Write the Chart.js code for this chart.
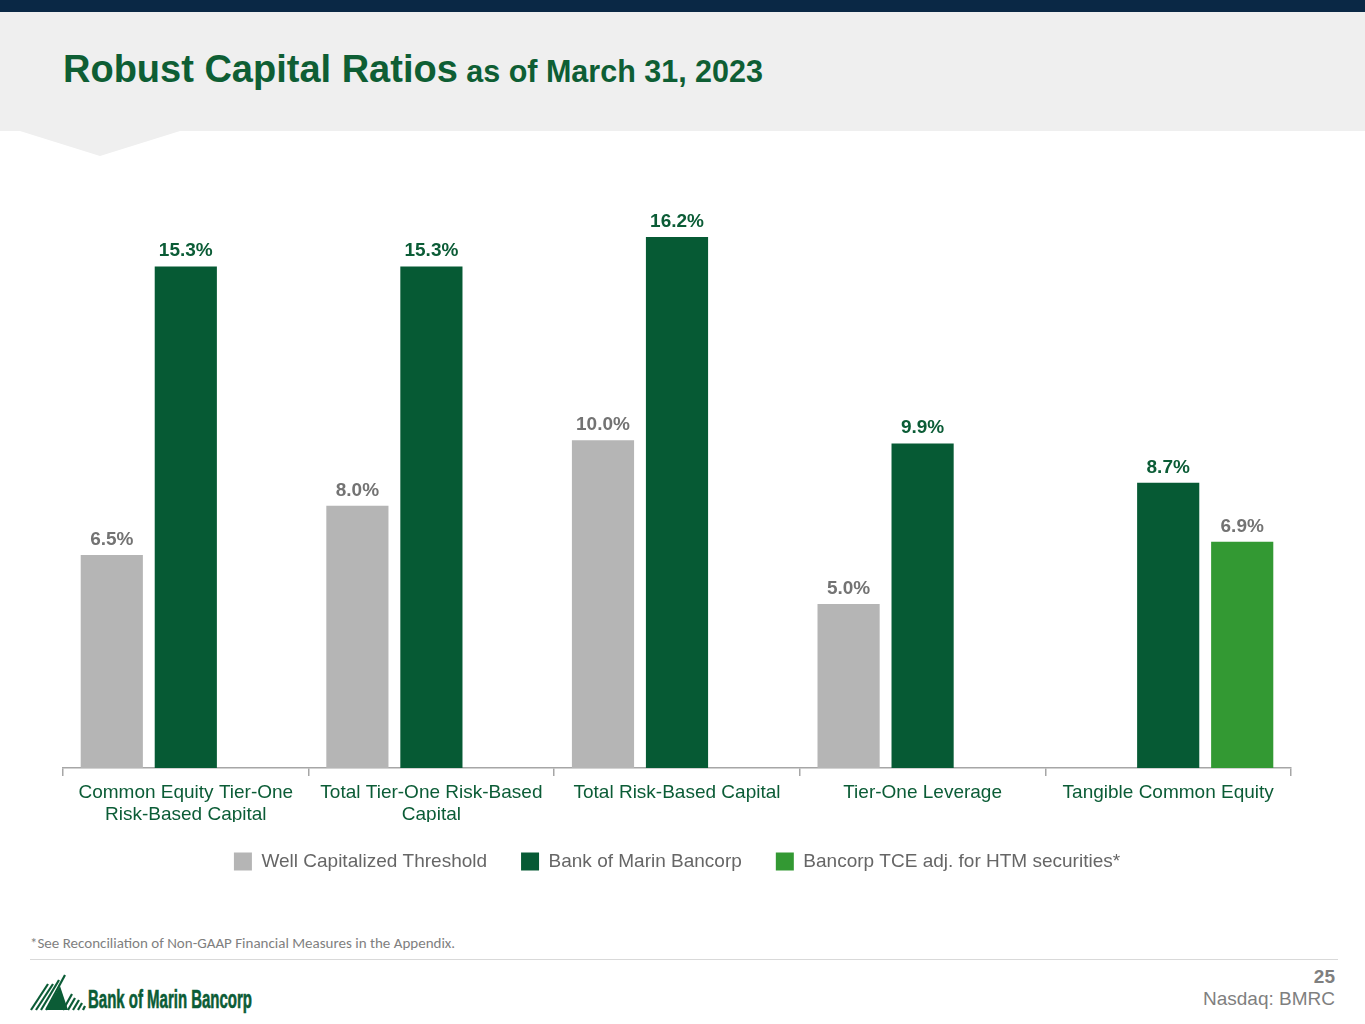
<!DOCTYPE html>
<html>
<head>
<meta charset="utf-8">
<script src="https://cdn.jsdelivr.net/npm/chart.js@4.4.1/dist/chart.umd.min.js"></script>
<style>
  html, body { margin: 0; padding: 0; background: #ffffff; }
  body { width: 1365px; height: 1024px; position: relative; overflow: hidden; font-family: "Liberation Sans", Arial, sans-serif; }
  #topbar { position: absolute; left: 0; top: 0; width: 1365px; height: 12px; background: #0a2845; }
  #band { position: absolute; left: 0; top: 12px; width: 1365px; height: 160px; }
  #title { position: absolute; left: 63px; top: 48px; color: #0e5e34; font-weight: bold; white-space: nowrap; }
  #title .big { font-size: 38px; }
  #title .small { font-size: 30.5px; margin-left: 4px; }
  #chartWrap { position: absolute; left: 0; top: 160px; width: 1365px; height: 725px; }
  #footnote { position: absolute; left: 30px; top: 934px; font-family: Carlito, "Liberation Sans", sans-serif; font-size: 15px; color: #7f7f7f; white-space: nowrap; }
  #rule { position: absolute; left: 30px; top: 959px; width: 1308px; height: 1px; background: #d9d9d9; }
  #pagenum { position: absolute; right: 30px; top: 966px; font-size: 19px; font-weight: bold; color: #7f7f7f; }
  #nasdaq { position: absolute; right: 30px; top: 988px; font-size: 19px; color: #7f7f7f; }
  #logo { position: absolute; left: 28px; top: 970px; }
</style>
</head>
<body>
<div id="topbar"></div>
<svg id="band" width="1365" height="160">
  <polygon points="0,0 1365,0 1365,119 180,119 100,144 20,119 0,119" fill="#efefef"/>
</svg>
<div id="title"><span class="big">Robust Capital Ratios</span> <span class="small">as of March 31, 2023</span></div>
<div id="chartWrap"><canvas id="chart"></canvas></div>
<div id="footnote">*See Reconciliation of Non-GAAP Financial Measures in the Appendix.</div>
<div id="rule"></div>
<div id="pagenum">25</div>
<div id="nasdaq">Nasdaq: BMRC</div>
<svg id="logo" width="240" height="45">
  <g stroke="#0b5c36" stroke-width="2.2" fill="none">
    <line x1="3" y1="40" x2="20" y2="14"/>
    <line x1="8" y1="40" x2="25" y2="14"/>
    <line x1="13" y1="40" x2="31" y2="10"/>
    <line x1="18" y1="40" x2="37" y2="5"/>
    <line x1="35" y1="40" x2="44" y2="24"/>
    <line x1="40" y1="40" x2="47" y2="28"/>
    <line x1="45" y1="40" x2="51" y2="30"/>
    <line x1="50" y1="40" x2="54" y2="33"/>
    <line x1="55" y1="40" x2="57" y2="36"/>
  </g>
  <polygon points="18,40 32,16 40,40" fill="#0b5c36"/>
  <text x="60" y="38" font-family="'Liberation Sans Narrow', 'Liberation Sans', Arial, sans-serif" font-weight="bold" font-size="25" fill="#0b5c36" stroke="#0b5c36" stroke-width="0.6" textLength="164" lengthAdjust="spacingAndGlyphs">Bank of Marin Bancorp</text>
</svg>
<script>
const categories = [
  ["Common Equity Tier-One", "Risk-Based Capital"],
  ["Total Tier-One Risk-Based", "Capital"],
  "Total Risk-Based Capital",
  "Tier-One Leverage",
  "Tangible Common Equity"
];
const seriesNames = ["Well Capitalized Threshold", "Bank of Marin Bancorp", "Bancorp TCE adj. for HTM securities*"];
const wellCapitalized = [6.5, 8.0, 10.0, 5.0, null];
const bankOfMarin = [15.3, 15.3, 16.2, 9.9, 8.7];
const tceAdjusted = [null, null, null, null, 6.9];

const FONT = "'Liberation Sans', Arial, sans-serif";
const barColors = ["#b5b5b5", "#065a34", "#339933"];
const labelColors = ["#737373", "#0b5c36", "#737373"];

const valueLabels = {
  id: "valueLabels",
  afterDatasetsDraw(chart) {
    const ctx = chart.ctx;
    ctx.save();
    ctx.font = "bold 19px " + FONT;
    ctx.textAlign = "center";
    ctx.textBaseline = "alphabetic";
    chart.data.datasets.forEach((ds, i) => {
      const meta = chart.getDatasetMeta(i);
      meta.data.forEach((el, j) => {
        const v = ds.data[j];
        if (v === null || v === undefined) return;
        ctx.fillStyle = labelColors[i];
        ctx.fillText(v.toFixed(1) + "%", el.x, el.y - 10);
      });
    });
    ctx.restore();
  }
};

const legendNudge = {
  id: "legendNudge",
  afterLayout(chart) {
    if (chart.legend) { chart.legend.top -= 4; chart.legend.bottom -= 4; }
  }
};

new Chart(document.getElementById("chart"), {
  type: "bar",
  data: {
    labels: categories,
    datasets: [
      { label: seriesNames[0], data: wellCapitalized, backgroundColor: barColors[0] },
      { label: seriesNames[1], data: bankOfMarin, backgroundColor: barColors[1] },
      { label: seriesNames[2], data: tceAdjusted, backgroundColor: barColors[2] }
    ]
  },
  options: {
    responsive: true,
    maintainAspectRatio: false,
    animation: false,
    categoryPercentage: 0.904,
    barPercentage: 0.84,
    layout: { padding: { left: 63, right: 74, top: 18, bottom: 0 } },
    scales: {
      x: {
        afterFit(scale) { scale.height -= 10; },
        grid: { display: true, drawOnChartArea: false, drawTicks: true, tickLength: 8, color: "#a6a6a6", lineWidth: 1.5, offset: true },
        border: { display: true, color: "#a6a6a6", width: 1.5 },
        ticks: { color: "#0b5c36", font: { family: FONT, size: 19, lineHeight: 1.16 }, padding: 6, maxRotation: 0, autoSkip: false }
      },
      y: { display: false, min: 0, max: 18 }
    },
    plugins: {
      legend: {
        position: "bottom",
        labels: { color: "#666666", font: { family: FONT, size: 19 }, boxWidth: 18, boxHeight: 18, padding: 34 }
      },
      tooltip: { enabled: false }
    }
  },
  plugins: [valueLabels, legendNudge]
});
</script>
</body>
</html>
